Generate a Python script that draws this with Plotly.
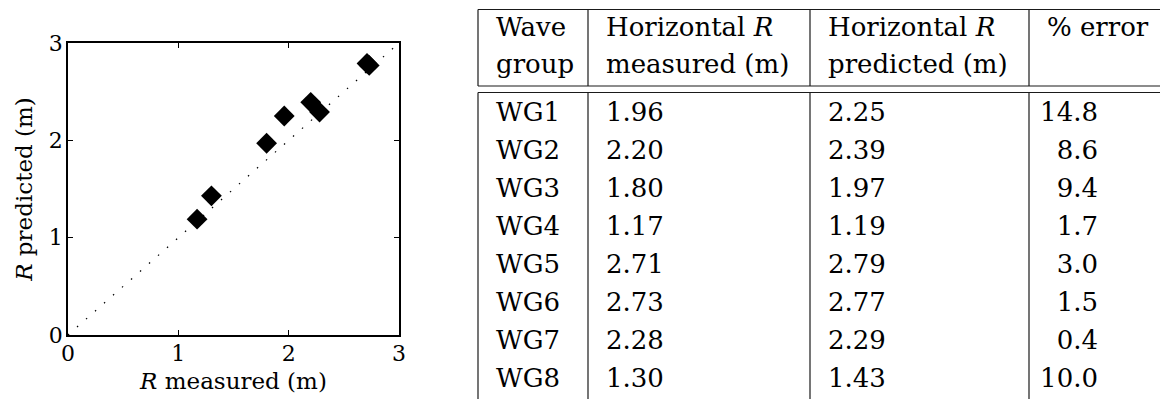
import plotly.graph_objects as go

# ---- data -------------------------------------------------------------
groups = ["WG1", "WG2", "WG3", "WG4", "WG5", "WG6", "WG7", "WG8"]
r_measured = [1.96, 2.20, 1.80, 1.17, 2.71, 2.73, 2.28, 1.30]
r_predicted = [2.25, 2.39, 1.97, 1.19, 2.79, 2.77, 2.29, 1.43]
pct_error = [14.8, 8.6, 9.4, 1.7, 3.0, 1.5, 0.4, 10.0]

header_top = ["Wave", "Horizontal <i>R</i>", "Horizontal <i>R</i>", "% error"]
header_bottom = ["group", "measured (m)", "predicted (m)", ""]

axis_ticks = [0, 1, 2, 3]

# ---- layout constants ---------------------------------------------------
W, H = 1160, 399
FONT = "DejaVu Serif, serif"

# scatter panel, in pixels
PX0, PX1 = 68, 399
PY0, PY1 = 43, 335

# table geometry (pixel units on the table axes)
col_edges = [478, 588, 810, 1029]
pad = 18
num_right = 1098              # right edge of the % error numbers
rule_top = 9.5
rule_head = 86
rule_body = 92.5
head_base = [39, 76]
row_base0 = 124
row_pitch = 38
mid_shift = 0.35              # baseline sits 0.35em below a "middle" text point
tfont = 26

fig = go.Figure()

# 1:1 reference line
fig.add_trace(go.Scatter(
    x=[axis_ticks[0], axis_ticks[-1]], y=[axis_ticks[0], axis_ticks[-1]],
    mode="lines", line=dict(color="black", width=1.2, dash="1.5px,10.5px"),
    hoverinfo="skip", showlegend=False, xaxis="x", yaxis="y"))

# measured vs predicted run-up
fig.add_trace(go.Scatter(
    x=r_measured, y=r_predicted, mode="markers",
    marker=dict(symbol="diamond", size=16, color="black",
                line=dict(width=0)),
    text=groups, showlegend=False, xaxis="x", yaxis="y"))

# ---- table --------------------------------------------------------------
def ctr(base):
    return base - mid_shift * tfont

head_y = [ctr(b) for b in head_base]
body_y = [ctr(row_base0 + i * row_pitch) for i in range(len(groups))]

for j in range(4):
    fig.add_trace(go.Scatter(
        x=[col_edges[j] + pad] * 2, y=head_y,
        text=[header_top[j], header_bottom[j]],
        mode="text", textposition="middle right",
        textfont=dict(family=FONT, size=tfont, color="black"),
        hoverinfo="skip", showlegend=False, xaxis="x2", yaxis="y2"))

body_cols = [
    (groups, col_edges[0] + pad, "middle right"),
    ([f"{v:.2f}" for v in r_measured], col_edges[1] + pad, "middle right"),
    ([f"{v:.2f}" for v in r_predicted], col_edges[2] + pad, "middle right"),
    ([f"{v:.1f}" for v in pct_error], num_right, "middle left"),
]
for labels, xpos, pos in body_cols:
    fig.add_trace(go.Scatter(
        x=[xpos] * len(labels), y=body_y, text=labels,
        mode="text", textposition=pos,
        textfont=dict(family=FONT, size=tfont, color="black"),
        hoverinfo="skip", showlegend=False, xaxis="x2", yaxis="y2"))

rule = dict(color="#1a1a1a", width=1.2)
shapes = []
for yv in (rule_top, rule_head, rule_body):
    shapes.append(dict(type="line", xref="x2", yref="y2",
                       x0=col_edges[0], x1=W, y0=yv, y1=yv, line=rule))
for xv in col_edges:
    shapes.append(dict(type="line", xref="x2", yref="y2",
                       x0=xv, x1=xv, y0=rule_top, y1=rule_head, line=rule))
    shapes.append(dict(type="line", xref="x2", yref="y2",
                       x0=xv, x1=xv, y0=rule_body, y1=H, line=rule))

axis_common = dict(
    range=[axis_ticks[0], axis_ticks[-1]], tickvals=axis_ticks,
    ticks="inside", ticklen=5, tickwidth=1, tickcolor="black",
    showline=True, linecolor="black", linewidth=1.5, mirror="ticks",
    showgrid=False, zeroline=False, automargin=False,
    tickfont=dict(family=FONT, size=22, color="black"),
)

fig.update_layout(
    width=W, height=H,
    margin=dict(l=0, r=0, t=0, b=0, pad=0, autoexpand=False),
    paper_bgcolor="white", plot_bgcolor="rgba(0,0,0,0)",
    font=dict(family=FONT, color="black"),
    xaxis=dict(axis_common, domain=[PX0 / W, PX1 / W], anchor="y",
               ticklabelstandoff=-2,
               title=dict(text="<i>R</i> measured (m)", standoff=8,
                          font=dict(family=FONT, size=23))),
    yaxis=dict(axis_common, domain=[1 - PY1 / H, 1 - PY0 / H], anchor="x",
               ticklabelstandoff=-1,
               title=dict(text="<i>R</i> predicted (m)", standoff=10,
                          font=dict(family=FONT, size=23))),
    xaxis2=dict(domain=[420 / W, 1], range=[420, W], visible=False,
                anchor="y2", fixedrange=True, automargin=False),
    yaxis2=dict(domain=[0, 1], range=[H, 0], visible=False,
                anchor="x2", fixedrange=True, automargin=False),
    shapes=shapes,
)

fig.write_html("out.html", config={"displayModeBar": False})
